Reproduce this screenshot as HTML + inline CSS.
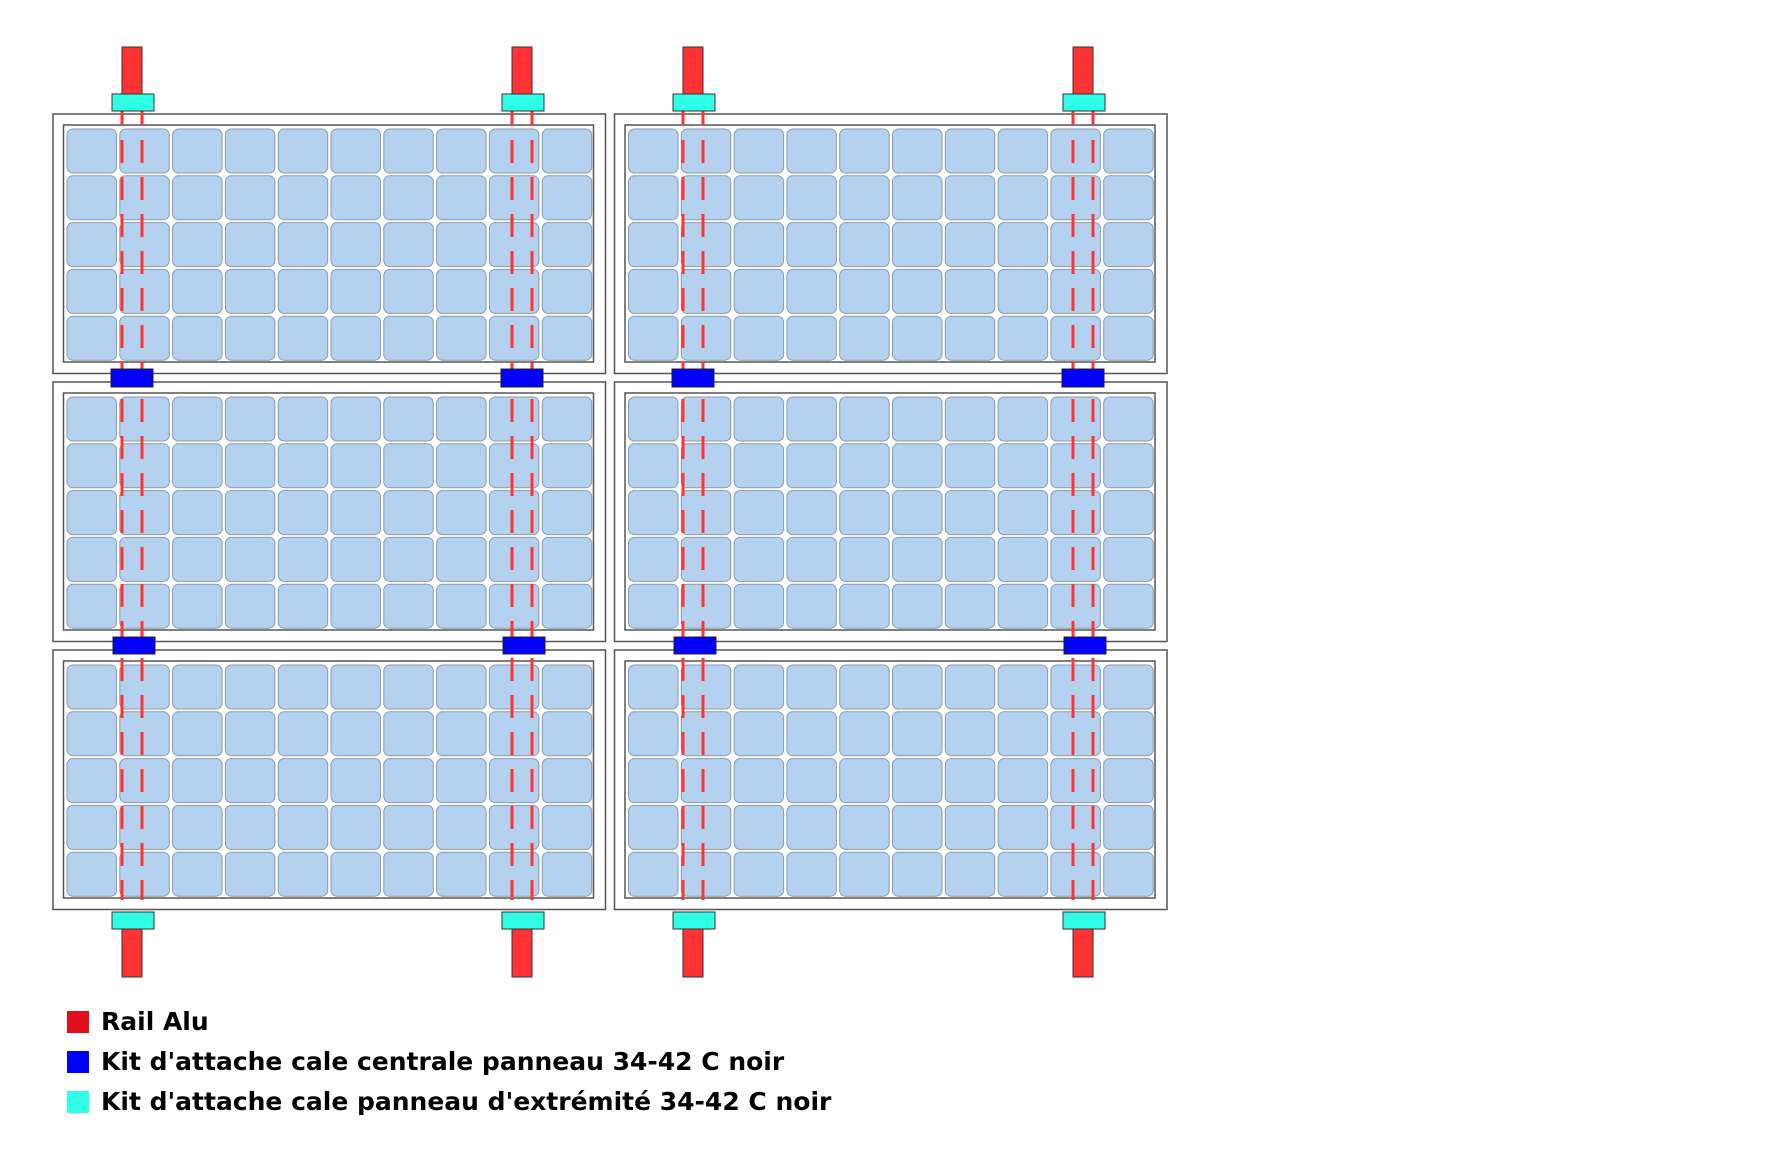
<!DOCTYPE html>
<html><head><meta charset="utf-8"><style>
html,body{margin:0;padding:0;background:#fff;}
body{width:1767px;height:1149px;position:relative;overflow:hidden;}
svg{position:absolute;left:0;top:0;}
.leg{position:absolute;left:67px;font-family:"DejaVu Sans","Liberation Sans",sans-serif;font-weight:bold;font-size:25px;color:#000;line-height:22px;white-space:nowrap;}
.leg i{display:inline-block;width:22px;height:22px;vertical-align:top;margin-right:12px;}
</style></head><body>
<svg id="s" width="1767" height="1149" xmlns="http://www.w3.org/2000/svg"></svg>
<div class="leg" style="top:1011px"><i style="background:#e0101a"></i>Rail Alu</div>
<div class="leg" style="top:1051px"><i style="background:#0000ff"></i>Kit d'attache cale centrale panneau 34-42 C noir</div>
<div class="leg" style="top:1091px"><i style="background:#2effe6"></i>Kit d'attache cale panneau d'extrémité 34-42 C noir</div>
<script>
var s=document.getElementById('s'),h='';
function r(x,y,w,hh,f,st,sw,rx){h+='<rect x="'+x+'" y="'+y+'" width="'+w+'" height="'+hh+'" fill="'+f+'" stroke="'+st+'" stroke-width="'+sw+'"'+(rx?' rx="'+rx+'"':'')+'/>';}
var cols=[53,614.5],rows=[114,382,650];
cols.forEach(function(cx){rows.forEach(function(ry){
 r(cx,ry,552.5,259.5,'#fff','#555',1.5);
 r(cx+10.5,ry+11,530,237,'#fff','#555',1.5);
 for(var j=0;j<5;j++)for(var i=0;i<10;i++)r(cx+14+i*52.8,ry+15+j*46.8,49.5,44,'#b4d2ef','#8a9aab',1,6);
});});
var rails=[[122,512],[683,1073]];
rails.forEach(function(p){p.forEach(function(x){
 [x,x+20].forEach(function(lx){
  h+='<line x1="'+lx+'" y1="111" x2="'+lx+'" y2="125" stroke="#ff3333" stroke-width="3"/>';
  h+='<line x1="'+lx+'" y1="140" x2="'+lx+'" y2="900" stroke="#ff3333" stroke-width="3" stroke-dasharray="23 14"/>';
 });
 r(x,47,20,47,'#ff3333','#333',1);
 r(x-10,94,42,17,'#2effe6','#333',1);
 r(x-10,912,42,17,'#2effe6','#333',1);
 r(x,929,20,48,'#ff3333','#333',1);
 r(x-11,369,42,18,'#0000ff','#222',1);
 r(x-9,637,42,17,'#0000ff','#222',1);
});});
s.innerHTML=h;
</script>
</body></html>
